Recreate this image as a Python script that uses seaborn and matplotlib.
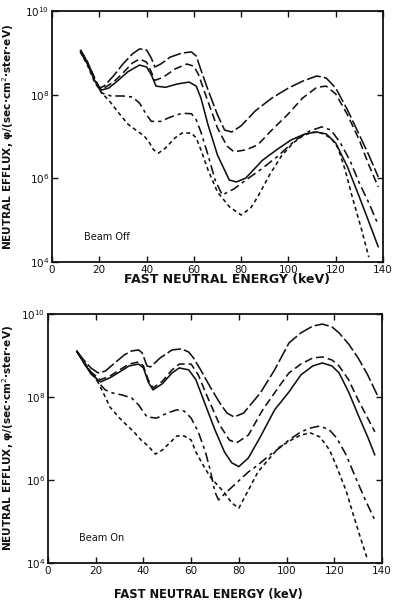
import matplotlib
matplotlib.use("Agg")
import matplotlib.pyplot as plt
import matplotlib.ticker as mticker
import numpy as np
import pandas as pd
import seaborn as sns

# ---------------- Beam Off (upper panel) ----------------
off_a_e = [12, 15, 18, 20, 22, 26, 30, 34, 37, 40, 42, 43.5, 46, 50, 55, 59, 61, 63, 66, 70, 73, 76,
           80, 86, 93, 100, 106, 112, 116, 120, 125, 130, 134, 138]
off_a_f = [1.17e9, 6.0e8, 2.5e8, 1.44e8, 1.6e8, 2.8e8, 5.4e8, 9.4e8, 1.24e9, 1.17e9, 7.5e8, 4.6e8, 5.4e8,
           7.9e8, 9.9e8, 1.05e9, 8.4e8, 3.9e8, 1.29e8, 3.3e7, 1.43e7, 1.28e7, 1.8e7, 4.1e7, 8.3e7, 1.44e8,
           2.1e8, 2.8e8, 2.5e8, 1.44e8, 4.3e7, 1.09e7, 3.6e6, 1.08e6]

off_b_e = [12, 15, 18, 20, 22, 26, 30, 34, 37, 40, 42, 43.5, 47, 52, 57, 60, 62, 65, 70, 74, 77, 82,
           87, 93, 100, 106, 112, 116, 120, 125, 130, 134, 138]
off_b_f = [1.17e9, 6.0e8, 2.5e8, 1.44e8, 1.44e8, 2.0e8, 3.3e8, 5.7e8, 7.1e8, 6.0e8, 3.5e8, 2.2e8, 2.6e8,
           4.1e8, 5.4e8, 4.8e8, 3.0e8, 9.8e7, 1.6e7, 5.9e6, 4.3e6, 4.8e6, 6.3e6, 1.43e7, 3.5e7, 8.3e7,
           1.5e8, 1.6e8, 1.04e8, 3.3e7, 8.2e6, 2.1e6, 6.2e5]

off_c_e = [12, 15, 18, 21, 24, 28, 32, 37, 40, 42, 44, 48, 53, 58, 61, 63, 66, 70, 75, 78, 82, 89,
           95, 101, 107, 112, 116, 120, 125, 130, 135, 138]
off_c_f = [1.05e9, 5.4e8, 2.2e8, 1.29e8, 1.44e8, 2.2e8, 3.5e8, 5.1e8, 4.6e8, 3.0e8, 1.6e8, 1.5e8, 1.8e8,
           2.0e8, 1.6e8, 8.3e7, 1.9e7, 3.6e6, 9.1e5, 8.2e5, 1.02e6, 2.7e6, 4.8e6, 8.2e6, 1.15e7, 1.28e7,
           1.15e7, 7.0e6, 1.87e6, 3.6e5, 6.5e4, 2.3e4]

off_d_e = [12, 15, 18, 21, 25, 30, 34, 37, 40, 42, 46, 50, 55, 59, 61, 63, 66, 69, 72, 77, 82, 88,
           95, 103, 109, 114, 118, 122, 126, 130, 134, 138]
off_d_f = [1.17e9, 6.0e8, 2.2e8, 1.10e8, 9.3e7, 9.3e7, 8.8e7, 6.3e7, 3.3e7, 2.3e7, 2.3e7, 2.9e7, 3.6e7,
           3.5e7, 2.5e7, 1.28e7, 3.6e6, 9.1e5, 4.0e5, 5.6e5, 9.1e5, 1.58e6, 3.2e6, 8.2e6, 1.35e7, 1.7e7,
           1.43e7, 7.0e6, 2.7e6, 7.7e5, 2.6e5, 7.7e4]

off_e_e = [12, 15, 18, 21, 24, 28, 32, 36, 39, 41, 43, 45, 48, 52, 55, 59, 61, 63, 66, 70, 75, 80,
           84, 87, 92, 97, 102, 106, 110, 114, 118, 121, 124, 127, 131, 134]
off_e_f = [1.05e9, 5.1e8, 2.0e8, 1.10e8, 7.4e7, 3.8e7, 2.0e7, 1.35e7, 1.03e7, 7.4e6, 4.8e6, 4.0e6, 5.3e6,
           9.2e6, 1.21e7, 1.21e7, 9.2e6, 4.8e6, 1.58e6, 4.7e5, 2.1e5, 1.33e5, 1.95e5, 3.6e5, 1.20e6,
           3.4e6, 7.0e6, 1.03e7, 1.28e7, 1.21e7, 9.2e6, 5.3e6, 1.58e6, 3.6e5, 5.8e4, 1.31e4]

# ---------------- Beam On (lower panel) ----------------
on_a_e = [12, 15, 18, 21, 24, 28, 32, 35, 38, 39.5, 41.5, 43, 47, 52, 56, 59, 61, 64, 68, 72, 75, 78,
          82, 89, 95, 101, 106, 111, 115, 119, 122, 126, 130, 134, 138]
on_a_f = [1.28e9, 7.8e8, 5.0e8, 3.8e8, 4.2e8, 6.6e8, 1.03e9, 1.28e9, 1.36e9, 1.15e9, 5.6e8, 5.3e8, 8.7e8,
          1.36e9, 1.44e9, 1.21e9, 8.7e8, 4.5e8, 1.74e8, 7.2e7, 4.1e7, 3.3e7, 4.1e7, 1.25e8, 4.5e8, 2.0e9,
          3.5e9, 5.1e9, 5.7e9, 4.9e9, 3.5e9, 1.89e9, 8.7e8, 3.4e8, 1.12e8]

on_b_e = [12, 15, 18, 22, 26, 30, 34, 38, 40, 42, 44, 48, 52, 55, 60, 63, 67, 72, 76, 79, 84, 90,
          97, 101, 106, 111, 115, 119, 122, 126, 130, 134, 137]
on_b_f = [1.28e9, 7.0e8, 4.0e8, 2.6e8, 3.2e8, 4.5e8, 6.2e8, 7.0e8, 5.6e8, 2.6e8, 1.65e8, 2.4e8, 4.5e8,
          6.2e8, 6.2e8, 3.4e8, 9.5e7, 2.1e7, 9.2e6, 7.8e6, 1.21e7, 4.9e7, 1.84e8, 3.8e8, 6.2e8, 8.7e8,
          9.2e8, 7.8e8, 5.6e8, 2.6e8, 8.5e7, 3.1e7, 1.44e7]

on_c_e = [12, 15, 18, 22, 26, 30, 34, 38, 40, 42, 44, 48, 52, 55, 59, 62, 66, 70, 74, 77, 80, 84,
          89, 95, 101, 106, 111, 115, 119, 122, 126, 130, 134, 137]
on_c_f = [1.28e9, 6.6e8, 3.6e8, 2.3e8, 2.9e8, 4.0e8, 5.6e8, 6.2e8, 5.0e8, 2.3e8, 1.48e8, 2.1e8, 3.8e8,
          5.0e8, 4.5e8, 2.6e8, 6.4e7, 1.6e7, 4.7e6, 2.6e6, 2.1e6, 3.4e6, 1.09e7, 4.9e7, 1.32e8, 3.4e8,
          5.6e8, 6.6e8, 5.6e8, 3.8e8, 1.32e8, 3.7e7, 1.09e7, 4.0e6]

on_d_e = [12, 15, 18, 21, 24, 27, 31, 35, 38, 41.5, 45.5, 50, 54, 57, 60, 63, 66, 68, 70, 71.5, 74,
          79, 84, 88, 93, 97, 101, 106, 110, 114, 118, 121, 125, 129, 133, 137]
on_d_f = [1.28e9, 7.0e8, 3.8e8, 2.3e8, 1.48e8, 1.25e8, 1.12e8, 9.5e7, 6.4e7, 3.3e7, 3.1e7, 4.1e7, 4.9e7,
          4.6e7, 3.1e7, 1.44e7, 4.7e6, 1.74e6, 5.1e5, 3.3e5, 4.6e5, 8.5e5, 1.56e6, 2.3e6, 4.0e6, 5.9e6,
          9.2e6, 1.44e7, 1.79e7, 2.0e7, 1.6e7, 1.03e7, 4.0e6, 1.12e6, 3.3e5, 1.09e5]

on_e_e = [12, 15, 18, 20, 23, 26, 30, 33, 36, 39, 42, 45, 48, 51, 54, 57, 60, 62, 65, 68, 71, 74, 77,
          80, 84, 88, 93, 97, 102, 106, 110, 114, 118, 121, 125, 128, 131, 134]
on_e_f = [1.28e9, 7.0e8, 4.0e8, 2.9e8, 1.32e8, 5.7e7, 3.1e7, 2.1e7, 1.44e7, 9.2e6, 6.6e6, 4.2e6, 5.3e6,
          7.8e6, 1.15e7, 1.15e7, 9.2e6, 4.7e6, 2.3e6, 1.18e6, 7.6e5, 4.9e5, 2.8e5, 2.1e5, 5.7e5, 1.56e6,
          3.4e6, 6.2e6, 9.2e6, 1.21e7, 1.36e7, 1.09e7, 5.3e6, 2.1e6, 5.4e5, 1.44e5, 4.0e4, 1.18e4]

energy_ticks = [0, 20, 40, 60, 80, 100, 120, 140]
flux_ticks = [1e4, 1e6, 1e8, 1e10]
panel_labels = ["Beam Off", "Beam On"]
x_title = "FAST NEUTRAL ENERGY (keV)"
y_title = "NEUTRAL EFFLUX, \u03c6/(sec\u00b7cm$^2$\u00b7ster\u00b7eV)"

curve_names = ["a", "b", "c", "d", "e"]
line_dashes = {"a": (9, 2), "b": (5, 2.5), "c": "", "d": (6, 2.5, 2, 2.5), "e": (2.5, 2)}


def long_table(pairs):
    rows = []
    for name, (xs, ys) in zip(curve_names, pairs):
        rows.append(pd.DataFrame({"energy": xs, "flux": ys, "curve": name}))
    return pd.concat(rows, ignore_index=True)


off_df = long_table([(off_a_e, off_a_f), (off_b_e, off_b_f), (off_c_e, off_c_f),
                     (off_d_e, off_d_f), (off_e_e, off_e_f)])
on_df = long_table([(on_a_e, on_a_f), (on_b_e, on_b_f), (on_c_e, on_c_f),
                    (on_d_e, on_d_f), (on_e_e, on_e_f)])

sns.set_style("ticks")
plt.rcParams["font.family"] = ["DejaVu Sans"]
plt.rcParams["lines.solid_joinstyle"] = "round"
plt.rcParams["lines.dash_joinstyle"] = "round"

fig = plt.figure(figsize=(3.93, 6.04), dpi=100)
ax_off = fig.add_axes([0.1323, 0.5662, 0.8422, 0.4156])
ax_on = fig.add_axes([0.1221, 0.0679, 0.8499, 0.4123])

settings = [
    (ax_off, off_df, panel_labels[0], (23.4, 4.0e4), (0.53, -0.045), -0.108, 9.0),
    (ax_on, on_df, panel_labels[1], (22.6, 4.0e4), (0.48, -0.10), -0.097, 8.3),
]

for ax, df, tag, tag_pos, xlab_pos, ylab_x, xlab_size in settings:
    sns.lineplot(data=df, x="energy", y="flux", style="curve", dashes=line_dashes,
                 color="#111111", linewidth=1.15, estimator=None, sort=False,
                 legend=False, ax=ax)
    ax.set_yscale("log")
    ax.set_xlim(0, 140)
    ax.set_ylim(1e4, 1e10)
    ax.set_xticks(energy_ticks)
    ax.set_yticks(flux_ticks)
    ax.yaxis.set_minor_locator(mticker.NullLocator())
    ax.tick_params(direction="in", top=True, right=True, length=4, width=1.0,
                   labelsize=7.5, pad=2, colors="#111111")
    for side in ["left", "right", "top", "bottom"]:
        ax.spines[side].set_visible(True)
        ax.spines[side].set_linewidth(1.3)
        ax.spines[side].set_color("#111111")
    ax.set_xlabel(x_title, fontsize=xlab_size, fontweight="bold", color="#111111")
    ax.xaxis.set_label_coords(*xlab_pos)
    ax.set_ylabel(y_title, fontsize=7.6, fontweight="bold", color="#111111")
    ax.yaxis.set_label_coords(ylab_x, 0.5)
    ax.text(tag_pos[0], tag_pos[1], tag, fontsize=7, ha="center", va="center", color="#111111")

fig.savefig("out.png", dpi=100, facecolor="white")
